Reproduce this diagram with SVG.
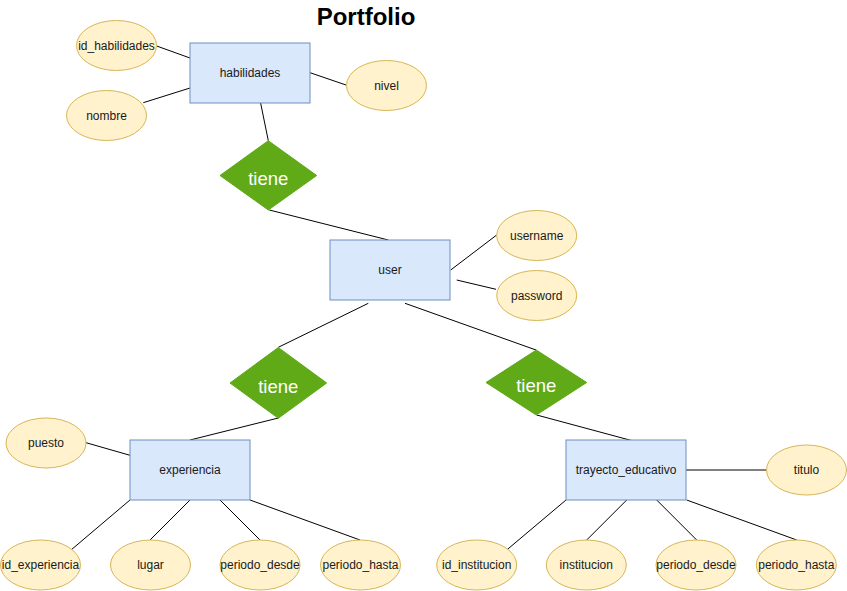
<svg xmlns="http://www.w3.org/2000/svg" width="847" height="591" viewBox="0 0 847 591">
<style>
.ent{fill:#dae8fc;stroke:#6c8ebf;stroke-width:1}
.att{fill:#fff2cc;stroke:#d6b656;stroke-width:1}
.rel{fill:#60a917;stroke:#60a917;stroke-width:1}
.t{font-family:"Liberation Sans",Arial,sans-serif;font-size:12px;fill:#1a1a1a;text-anchor:middle}
.rt{font-family:"Liberation Sans",Arial,sans-serif;font-size:18.5px;fill:#ffffff;text-anchor:middle}
.title{font-family:"Liberation Sans",Arial,sans-serif;font-size:24px;font-weight:bold;fill:#000;text-anchor:middle}
#connectors line{stroke:#000;stroke-width:1}
</style>
<rect width="847" height="591" fill="#ffffff"/>
<text class="title" x="366" y="25">Portfolio</text>
<g id="connectors">
<line x1="156.7" y1="46" x2="190" y2="58"/>
<line x1="143.3" y1="102.7" x2="190" y2="88"/>
<line x1="310" y1="72.7" x2="346" y2="85"/>
<line x1="260" y1="100" x2="268.3" y2="140.7"/>
<line x1="269.3" y1="210" x2="388.3" y2="240"/>
<line x1="450.7" y1="270" x2="496.7" y2="235"/>
<line x1="456.7" y1="280" x2="496" y2="289.3"/>
<line x1="368.3" y1="303.3" x2="278.3" y2="347.3"/>
<line x1="405" y1="303.3" x2="536" y2="350"/>
<line x1="278.3" y1="418" x2="190" y2="440"/>
<line x1="86" y1="442.7" x2="130" y2="455.3"/>
<line x1="130" y1="500" x2="71" y2="550"/>
<line x1="190" y1="500" x2="150" y2="540"/>
<line x1="220" y1="500" x2="260" y2="540"/>
<line x1="250" y1="500" x2="360" y2="540"/>
<line x1="536.7" y1="415" x2="633.3" y2="441"/>
<line x1="686" y1="470" x2="766" y2="470"/>
<line x1="566" y1="500" x2="506.7" y2="550"/>
<line x1="626.7" y1="500" x2="586.7" y2="540"/>
<line x1="656.7" y1="500" x2="696.7" y2="540"/>
<line x1="686.7" y1="500" x2="796.7" y2="540"/>
</g>
<g id="habilidades"><rect class="ent" x="190" y="43" width="120" height="60"/><text class="t" x="250" y="77">habilidades</text></g>
<g id="id_habilidades"><ellipse class="att" cx="116.5" cy="45.5" rx="40" ry="25"/><text class="t" x="116.5" y="49.5">id_habilidades</text></g>
<g id="nombre"><ellipse class="att" cx="106.5" cy="115.5" rx="40" ry="25"/><text class="t" x="106.5" y="119.5">nombre</text></g>
<g id="nivel"><ellipse class="att" cx="386.5" cy="85.5" rx="40" ry="25"/><text class="t" x="386.5" y="89.5">nivel</text></g>
<g id="tiene1"><polygon class="rel" points="268.3,140.7 316.7,175.5 268.3,210 220,175.5"/><text class="rt" x="268.3" y="185">tiene</text></g>
<g id="user"><rect class="ent" x="330" y="240" width="120" height="60"/><text class="t" x="390" y="274">user</text></g>
<g id="username"><ellipse class="att" cx="536.7" cy="235.5" rx="40" ry="25"/><text class="t" x="536.7" y="239.5">username</text></g>
<g id="password"><ellipse class="att" cx="536.7" cy="295.5" rx="40" ry="25"/><text class="t" x="536.7" y="299.5">password</text></g>
<g id="tiene2"><polygon class="rel" points="278.3,347.5 326.7,383 278.3,418.3 230,383"/><text class="rt" x="278.3" y="392.5">tiene</text></g>
<g id="tiene3"><polygon class="rel" points="536.3,350 586.7,382.5 536.3,415 486,382.5"/><text class="rt" x="536.3" y="392">tiene</text></g>
<g id="experiencia"><rect class="ent" x="130" y="440" width="120" height="60"/><text class="t" x="190" y="474">experiencia</text></g>
<g id="puesto"><ellipse class="att" cx="46" cy="443" rx="40" ry="25"/><text class="t" x="46" y="447">puesto</text></g>
<g id="id_experiencia"><ellipse class="att" cx="40.5" cy="565" rx="40" ry="25"/><text class="t" x="40.5" y="569">id_experiencia</text></g>
<g id="lugar"><ellipse class="att" cx="150.5" cy="565" rx="40" ry="25"/><text class="t" x="150.5" y="569">lugar</text></g>
<g id="periodo_desde1"><ellipse class="att" cx="260" cy="565" rx="40" ry="25"/><text class="t" x="260" y="569">periodo_desde</text></g>
<g id="periodo_hasta1"><ellipse class="att" cx="360.5" cy="565" rx="40" ry="25"/><text class="t" x="360.5" y="569">periodo_hasta</text></g>
<g id="trayecto_educativo"><rect class="ent" x="566" y="440" width="120" height="60"/><text class="t" x="626" y="474">trayecto_educativo</text></g>
<g id="titulo"><ellipse class="att" cx="806.5" cy="470" rx="40" ry="25"/><text class="t" x="806.5" y="474">titulo</text></g>
<g id="id_institucion"><ellipse class="att" cx="476.7" cy="565" rx="40" ry="25"/><text class="t" x="476.7" y="569">id_institucion</text></g>
<g id="institucion"><ellipse class="att" cx="586.3" cy="565" rx="40" ry="25"/><text class="t" x="586.3" y="569">institucion</text></g>
<g id="periodo_desde2"><ellipse class="att" cx="696" cy="565" rx="40" ry="25"/><text class="t" x="696" y="569">periodo_desde</text></g>
<g id="periodo_hasta2"><ellipse class="att" cx="796.3" cy="565" rx="40" ry="25"/><text class="t" x="796.3" y="569">periodo_hasta</text></g>
</svg>
